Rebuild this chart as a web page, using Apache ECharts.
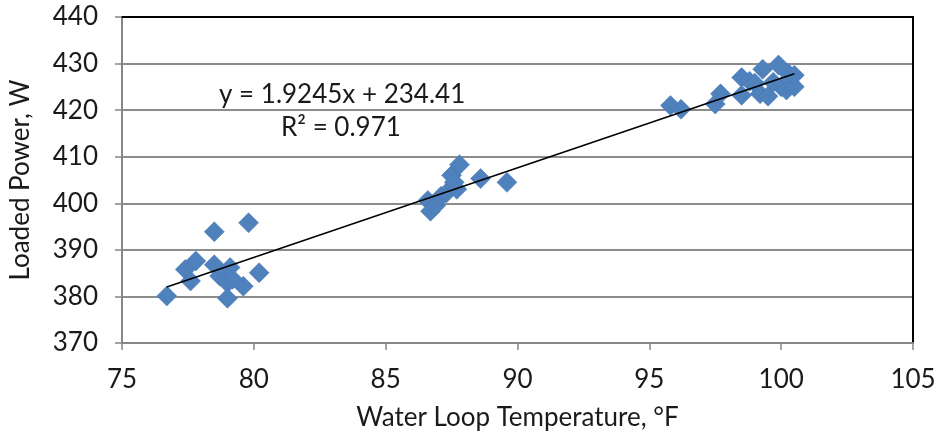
<!DOCTYPE html>
<html>
<head>
<meta charset="utf-8">
<script src="https://cdn.jsdelivr.net/npm/echarts@6/dist/echarts.min.js"></script>
<style>
  html, body { margin: 0; padding: 0; background: #fff; }
  #chart { width: 941px; height: 439px; }
</style>
</head>
<body>
<div id="chart"></div>
<script>
// Measured water loop temperature (°F) and loaded power (W)
const waterTemp = [
  76.7, 77.4, 77.6, 77.8, 78.5, 79.8, 78.5, 79.1, 78.7, 79.0, 79.2, 79.6, 79.0, 80.2,
  86.6, 86.7, 86.9, 87.1, 87.3, 87.5, 87.7, 87.8, 87.6, 88.6, 89.6,
  95.8, 96.2, 97.5, 97.7, 98.5, 98.5, 98.8, 99.0, 99.3, 99.2, 99.5, 99.9, 100.0, 100.2, 100.3, 100.5, 100.5, 99.7
];
const loadedPower = [
  380.1, 385.8, 383.3, 387.6, 393.9, 395.8, 386.8, 386.2, 384.4, 382.9, 383.7, 382.2, 379.6, 385.1,
  400.6, 398.3, 399.5, 401.5, 402.2, 406.0, 403.0, 408.3, 404.5, 405.3, 404.5,
  421.0, 420.2, 421.3, 423.5, 427.0, 423.2, 426.2, 425.8, 428.8, 423.5, 423.0, 429.7, 425.0, 424.3, 427.7, 425.0, 427.5, 426.0
];

// Linear fit reported on the chart
const fitSlope = 1.9245;
const fitIntercept = 234.41;
const fitR2 = 0.971;

// Axis ranges and tick spacing
const xRange = [75, 105];
const xStep = 5;
const yRange = [370, 440];
const yStep = 10;

const points = waterTemp.map((t, i) => [t, loadedPower[i]]);
const xLo = Math.min(...waterTemp);
const xHi = Math.max(...waterTemp);
const fitLine = [xLo, xHi].map(x => [x, fitSlope * x + fitIntercept]);

const font = 'Lato';
const textColor = '#1a1a1a';
const chart = echarts.init(document.getElementById('chart'), null, { renderer: 'canvas' });

chart.setOption({
  animation: false,
  backgroundColor: '#ffffff',
  textStyle: { fontFamily: font },
  grid: { left: 118, right: 28, top: 17, bottom: 96 },
  xAxis: [{
    type: 'value',
    min: xRange[0], max: xRange[1], interval: xStep,
    name: 'Water Loop Temperature, °F',
    nameLocation: 'middle',
    nameGap: 62,
    nameTextStyle: { fontFamily: font, fontSize: 26, color: textColor },
    axisLine: { show: true, onZero: false, lineStyle: { color: '#868686', width: 2 } },
    axisTick: { show: true, inside: false, length: 7, lineStyle: { color: '#868686', width: 1.5 } },
    axisLabel: { fontFamily: font, fontSize: 26, color: textColor, margin: 24 },
    splitLine: { show: false }
  }, {
    type: 'value', position: 'top',
    min: xRange[0], max: xRange[1], interval: xStep,
    axisLine: { show: true, onZero: false, lineStyle: { color: '#000', width: 2 } },
    axisTick: { show: false }, axisLabel: { show: false }, splitLine: { show: false }
  }],
  yAxis: [{
    type: 'value',
    min: yRange[0], max: yRange[1], interval: yStep,
    name: 'Loaded Power, W',
    nameLocation: 'middle',
    nameGap: 88,
    nameTextStyle: { fontFamily: font, fontSize: 26, color: textColor },
    axisLine: { show: true, onZero: false, lineStyle: { color: '#868686', width: 2 } },
    axisTick: { show: true, inside: false, length: 7, lineStyle: { color: '#868686', width: 1.5 } },
    axisLabel: { fontFamily: font, fontSize: 26, color: textColor, margin: 24 },
    splitLine: { show: true, lineStyle: { color: '#8c8c8c', width: 2 } }
  }, {
    type: 'value', position: 'right',
    min: yRange[0], max: yRange[1], interval: yStep,
    axisLine: { show: true, onZero: false, lineStyle: { color: '#000', width: 2 } },
    axisTick: { show: false }, axisLabel: { show: false }, splitLine: { show: false }
  }],
  series: [{
    name: 'Loaded Power',
    type: 'scatter',
    data: points,
    symbol: 'diamond',
    symbolSize: 20,
    itemStyle: { color: '#4F81BD', borderColor: '#4677b2', borderWidth: 0.5, opacity: 1 },
    z: 3
  }, {
    name: 'Linear fit',
    type: 'line',
    data: fitLine,
    symbol: 'none',
    lineStyle: { color: '#000', width: 1.5 },
    z: 4
  }],
  graphic: [{
    type: 'text',
    left: 219, top: 82,
    style: { text: 'y = ' + fitSlope + 'x + ' + fitIntercept, font: '26px ' + font, fill: textColor }
  }, {
    type: 'text',
    left: 281, top: 115,
    style: { text: 'R² = ' + fitR2, font: '26px ' + font, fill: textColor }
  }]
});
</script>
</body>
</html>
